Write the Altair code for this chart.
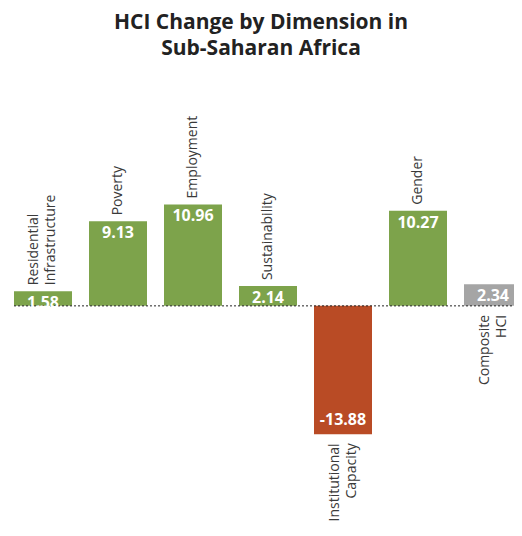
import altair as alt
import pandas as pd

categories = ["Residential\nInfrastructure", "Poverty", "Employment", "Sustainability",
              "Institutional\nCapacity", "Gender", "Composite\nHCI"]
values = [1.58, 9.13, 10.96, 2.14, -13.88, 10.27, 2.34]
kinds = ["gain", "gain", "gain", "gain", "loss", "gain", "composite"]
label_side = ["up", "up", "up", "up", "down", "up", "down"]

df = pd.DataFrame({"cat": categories, "value": values, "kind": kinds, "side": label_side})

W, H = 506, 398
FONT = "Open Sans"
LABEL_COLOR = "#3a3a3a"

x_scale = alt.Scale(range=[6, 514], paddingInner=0.2267, paddingOuter=0)
x = alt.X("cat:N", sort=categories, axis=None, scale=x_scale)
y_scale = alt.Scale(domain=[-24, 19])

base = alt.Chart(df).transform_calculate(
    lbl="replace(format(datum.value, '.2f'), '\u2212', '-')",
    multi="indexof(datum.cat, '\\n') >= 0",
)

bars = base.mark_bar().encode(
    x=x,
    y=alt.Y("value:Q", scale=y_scale, axis=None),
    y2=alt.datum(0),
    color=alt.Color("kind:N", legend=None,
                    scale=alt.Scale(domain=["gain", "loss", "composite"],
                                    range=["#7da34b", "#b94b25", "#a5a5a5"])),
)

zero = base.transform_filter(
    alt.FieldEqualPredicate(field="cat", equal=categories[0])
).mark_rule(
    color="#222222", strokeDash=[2, 2], strokeWidth=1
).encode(
    x=alt.X("cat:N", sort=categories, axis=None, scale=x_scale, bandPosition=0),
    x2=alt.value(W),
    y=alt.datum(0, scale=y_scale),
)

val_pos = base.transform_filter("datum.value >= 0").mark_text(
    baseline="top", dy=4, color="white", fontWeight="bold", fontSize=16, font=FONT
).encode(x=x, y=alt.Y("value:Q", scale=y_scale), text="lbl:N")

val_neg = base.transform_filter("datum.value < 0").mark_text(
    baseline="bottom", dy=-6, color="white", fontWeight="bold", fontSize=16, font=FONT
).encode(x=x, y=alt.Y("value:Q", scale=y_scale), text="lbl:N")

def up_labels(multi):
    return base.transform_filter(
        f"datum.side == 'up' && datum.multi == {str(multi).lower()}"
    ).mark_text(
        angle=270, align="left", baseline="middle", dx=6, dy=-8.5 if multi else 0,
        fontSize=14, font=FONT, color=LABEL_COLOR, lineBreak="\n", lineHeight=17
    ).encode(x=x, y=alt.Y("value:Q", scale=y_scale), text="cat:N")

lab_down = base.transform_filter("datum.side == 'down'").transform_calculate(
    ly="min(datum.value, 0)"
).mark_text(
    angle=270, align="right", baseline="middle", dx=-9, dy=-8.5, fontSize=14, font=FONT,
    color=LABEL_COLOR, lineBreak="\n", lineHeight=17
).encode(x=x, y=alt.Y("ly:Q", scale=y_scale), text="cat:N")

chart = alt.layer(bars, zero, val_pos, val_neg, up_labels(False), up_labels(True), lab_down).properties(
    width=W, height=H,
    padding={"left": 0, "right": 0, "top": 122, "bottom": 0},
    autosize=alt.AutoSizeParams(type="none"),
    title=alt.TitleParams(
        text=["HCI Change by Dimension in", "Sub-Saharan Africa"],
        fontSize=21, font=FONT, fontWeight="bold", color="#222222",
        anchor="middle", lineHeight=26, offset=57,
    ),
).configure_view(stroke=None)

chart.save("out.html", embed_options={"renderer": "svg", "actions": False})
